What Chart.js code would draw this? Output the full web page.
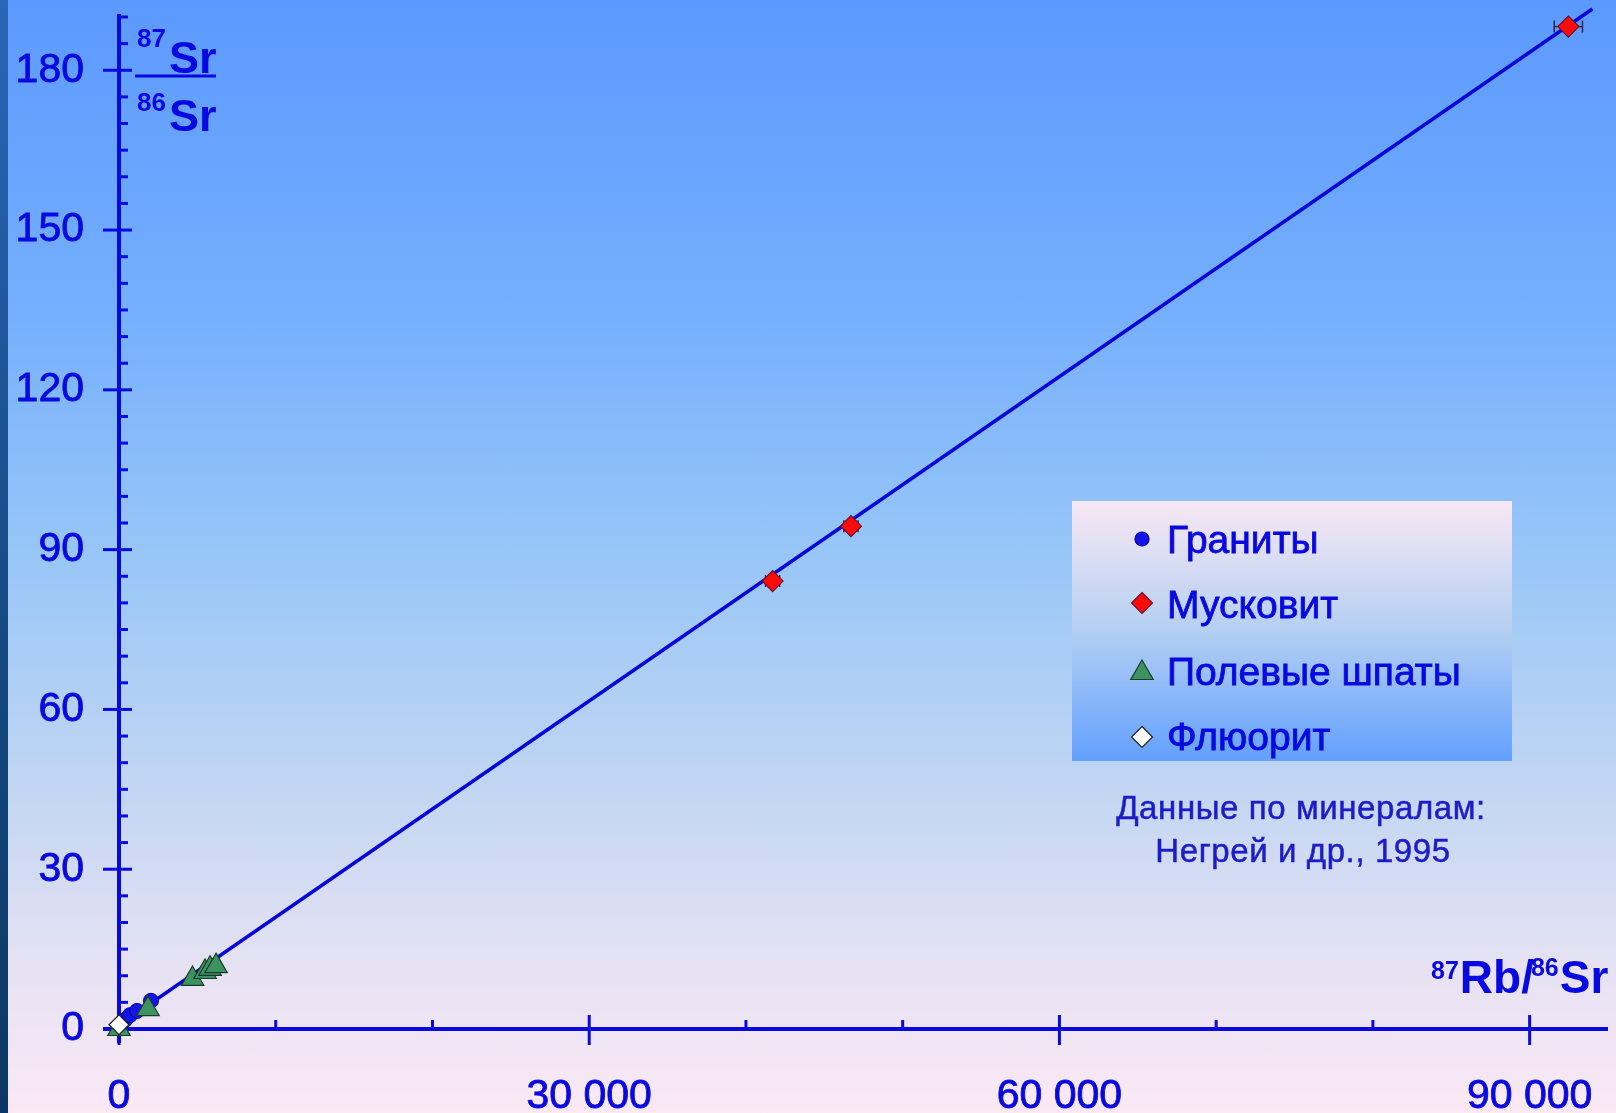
<!DOCTYPE html>
<html>
<head>
<meta charset="utf-8">
<title>Rb-Sr изохрона</title>
<script src="https://cdn.jsdelivr.net/npm/chart.js@4.4.1/dist/chart.umd.min.js"></script>
<style>
  html, body { margin: 0; padding: 0; }
  body {
    width: 1616px; height: 1113px; overflow: hidden; position: relative;
    background: linear-gradient(to bottom, #5c99ff 0%, #75affd 28%, #98c6f7 50%, #c4d7f2 72%, #e4e1f3 86%, #fbe9f5 100%);
  }
  #strip { position: absolute; left: 0; top: 0; width: 8px; height: 100%;
    background: linear-gradient(to bottom, #2a66b8, #14487f 60%, #0b3763); }
  #wrap { position: absolute; left: 0; top: 0; width: 1616px; height: 1113px; }
</style>
</head>
<body>
<div id="strip"></div>
<div id="wrap"><canvas id="grafico"></canvas></div>
<script>
// ===============================
// Данные (87Rb/86Sr, 87Sr/86Sr)
// ===============================
const xTicks = [0, 30000, 60000, 90000];
const xTickLabels = ['0', '30 000', '60 000', '90 000'];
const xMinorTicks = [10000, 20000, 40000, 50000, 70000, 80000];
const yTicks = [0, 30, 60, 90, 120, 150, 180];

const granitesX = [380, 700, 1150, 2040];
const granitesY = [1.7, 2.6, 3.4, 5.3];

const muscoviteX = [41700, 46700, 92470];
const muscoviteY = [84.1, 94.4, 188.2];
const muscoviteErrX = [450, 450, 900];

const feldsparX = [0, 1850, 4690, 5490, 5810, 6190];
const feldsparY = [0, 3.75, 9.4, 10.7, 11.3, 11.8];

const fluoriteX = [0];
const fluoriteY = [0.8];

// изохрона
const isochronX = [0, 94000];
const isochronY = [0.7, 191.5];

const seriesNames = ['Граниты', 'Мусковит', 'Полевые шпаты', 'Флюорит'];
const noteLines = ['Данные по минералам:', 'Негрей и др., 1995'];

const FONT = '"Liberation Sans", Arial, sans-serif';
const BLUE = '#0808e0';

function pts(xs, ys) {
  return xs.map((x, i) => ({ x: x, y: ys[i] }));
}

function seg(ctx, x1, y1, x2, y2) {
  ctx.beginPath(); ctx.moveTo(x1, y1); ctx.lineTo(x2, y2); ctx.stroke();
}

// текст с лёгкой обводкой (чуть плотнее, как в оригинале)
function label(ctx, text, x, y, stroke) {
  ctx.fillText(text, x, y);
  ctx.lineWidth = stroke;
  ctx.strokeStyle = ctx.fillStyle;
  ctx.strokeText(text, x, y);
}

// маркер для легенды
function marker(ctx, style, x, y, r, fill, stroke) {
  ctx.save();
  ctx.fillStyle = fill; ctx.strokeStyle = stroke; ctx.lineWidth = 1.2;
  ctx.beginPath();
  if (style === 'circle') {
    ctx.arc(x, y, r, 0, Math.PI * 2);
  } else if (style === 'diamond') {
    ctx.moveTo(x, y - r); ctx.lineTo(x + r, y); ctx.lineTo(x, y + r); ctx.lineTo(x - r, y);
  } else {
    ctx.moveTo(x, y - r); ctx.lineTo(x + r * 0.866, y + r / 2); ctx.lineTo(x - r * 0.866, y + r / 2);
  }
  ctx.closePath(); ctx.fill(); ctx.stroke();
  ctx.restore();
}

function isotope(ctx, x, base, mass, sym, supSize, mainSize, rise, gap) {
  ctx.font = 'bold ' + supSize + 'px ' + FONT;
  ctx.fillText(mass, x, base - rise);
  x += ctx.measureText(mass).width + gap;
  ctx.font = 'bold ' + mainSize + 'px ' + FONT;
  ctx.fillText(sym, x, base);
  return x + ctx.measureText(sym).width;
}

// Оси, деления и погрешности
const axesPlugin = {
  id: 'axes',
  beforeDatasetsDraw(chart) {
    const ctx = chart.ctx, xs = chart.scales.x, ys = chart.scales.y;
    const x0 = xs.getPixelForValue(0), y0 = ys.getPixelForValue(0);
    ctx.save();
    ctx.strokeStyle = BLUE;
    ctx.lineWidth = 4;
    seg(ctx, x0, ys.getPixelForValue(ys.max) - 3, x0, y0 + 14);
    seg(ctx, x0 - 16, y0, xs.getPixelForValue(xs.max), y0);
    ctx.lineWidth = 3;
    yTicks.forEach(v => { const p = ys.getPixelForValue(v); seg(ctx, x0 - 16, p, x0 + 13, p); });
    for (let v = 5; v <= ys.max; v += 5) {
      if (yTicks.includes(v)) continue;
      const p = ys.getPixelForValue(v);
      seg(ctx, x0, p, x0 + 9, p);
    }
    xTicks.forEach(v => { const p = xs.getPixelForValue(v); seg(ctx, p, y0 - 14, p, y0 + 16); });
    xMinorTicks.forEach(v => { const p = xs.getPixelForValue(v); seg(ctx, p, y0 - 9, p, y0); });

    // погрешности мусковита
    ctx.strokeStyle = '#26264a';
    ctx.lineWidth = 1.5;
    muscoviteX.forEach((x, i) => {
      const e = muscoviteErrX[i];
      const py = ys.getPixelForValue(muscoviteY[i]);
      const l = xs.getPixelForValue(x - e), r = xs.getPixelForValue(x + e);
      seg(ctx, l, py, r, py);
      seg(ctx, l, py - 6, l, py + 6);
      seg(ctx, r, py - 6, r, py + 6);
    });
    ctx.restore();
  },
  afterDraw(chart) {
    const ctx = chart.ctx;
    ctx.save();

    // легенда
    const bx = 1072, by = 501, bw = 440, bh = 260;
    const g = ctx.createLinearGradient(0, by, 0, by + bh);
    g.addColorStop(0, '#f8e8f4');
    g.addColorStop(0.5, '#b4cff2');
    g.addColorStop(1, '#62a0ff');
    ctx.fillStyle = g;
    ctx.fillRect(bx, by, bw, bh);

    const styles = [
      ['circle', 7, '#1414e6', '#0000a0'],
      ['diamond', 10.5, '#ff0a0a', '#6a1030'],
      ['triangle', 13, '#3d9262', '#1b3b2a'],
      ['diamond', 10.5, '#ffffff', '#202020']
    ];
    const markY = [539, 603, 673, 737];
    const textBase = [553, 618, 685, 750];
    ctx.textBaseline = 'alphabetic';
    seriesNames.forEach((name, i) => {
      const s = styles[i];
      marker(ctx, s[0], 1142, markY[i], s[1], s[2], s[3]);
      ctx.fillStyle = BLUE;
      ctx.font = '39px ' + FONT;
      ctx.textAlign = 'left';
      label(ctx, name, 1167, textBase[i], 0.8);
    });

    // примечание
    ctx.fillStyle = '#1c1cc8';
    ctx.font = '33px ' + FONT;
    ctx.letterSpacing = '0.6px';
    ctx.textAlign = 'center';
    label(ctx, noteLines[0], 1301, 819, 0.5);
    label(ctx, noteLines[1], 1303, 862, 0.5);
    ctx.letterSpacing = '0px';

    // подписи осей
    ctx.fillStyle = BLUE;
    ctx.textAlign = 'left';
    isotope(ctx, 137, 73, '87', 'Sr', 26, 45, 26, 3);
    isotope(ctx, 137, 131, '86', 'Sr', 26, 45, 20, 3);
    ctx.strokeStyle = BLUE;
    ctx.lineWidth = 3;
    seg(ctx, 135, 76, 216, 76);

    let x = isotope(ctx, 1431, 993, '87', 'Rb/', 25, 46, 14, 1);
    isotope(ctx, x - 3, 993, '86', 'Sr', 25, 46, 17, 1);
    ctx.restore();
  }
};

const ctx = document.getElementById('grafico').getContext('2d');
new Chart(ctx, {
  type: 'scatter',
  data: {
    datasets: [
      { label: 'isochron', data: pts(isochronX, isochronY), showLine: true,
        borderColor: '#0606d8', borderWidth: 3.5, pointRadius: 0, order: 5, clip: false },
      { label: seriesNames[0], data: pts(granitesX, granitesY), pointStyle: 'circle', pointRadius: 7.5,
        backgroundColor: '#1414e6', borderColor: '#0000a0', borderWidth: 1, order: 4, clip: false },
      { label: seriesNames[1], data: pts(muscoviteX, muscoviteY), pointStyle: 'rectRot', pointRadius: 10.5,
        backgroundColor: '#ff0a0a', borderColor: '#6a1030', borderWidth: 1.2, order: 3, clip: false },
      { label: seriesNames[2], data: pts(feldsparX, feldsparY), pointStyle: 'triangle', pointRadius: 13,
        backgroundColor: '#3d9262', borderColor: '#1b3b2a', borderWidth: 1.2, order: 2, clip: false },
      { label: seriesNames[3], data: pts(fluoriteX, fluoriteY), pointStyle: 'rectRot', pointRadius: 10,
        backgroundColor: '#ffffff', borderColor: '#202020', borderWidth: 1.2, order: 1, clip: false }
    ]
  },
  options: {
    responsive: true,
    maintainAspectRatio: false,
    animation: false,
    events: [],
    layout: { autoPadding: false, padding: { top: 17, right: 8, left: 0, bottom: 0 } },
    plugins: { legend: { display: false }, tooltip: { enabled: false } },
    scales: {
      x: {
        type: 'linear', min: 0, max: 95000,
        grid: { display: false, drawTicks: false }, border: { display: false },
        afterBuildTicks: a => { a.ticks = xTicks.map(v => ({ value: v })); },
        afterFit: a => { a.height = 84; a.paddingLeft = 0; a.paddingRight = 0; },
        ticks: { autoSkip: false, maxRotation: 0, padding: 43, color: BLUE,
          textStrokeColor: BLUE, textStrokeWidth: 0.8,
          font: { family: FONT, size: 41 },
          callback: (v, i) => xTickLabels[i] }
      },
      y: {
        type: 'linear', min: 0, max: 190,
        grid: { display: false, drawTicks: false }, border: { display: false },
        afterBuildTicks: a => { a.ticks = yTicks.map(v => ({ value: v })); },
        afterFit: a => { a.width = 119; a.paddingTop = 0; a.paddingBottom = 0; },
        ticks: { autoSkip: false, padding: 35, color: BLUE,
          textStrokeColor: BLUE, textStrokeWidth: 0.8,
          font: { family: FONT, size: 41 } }
      }
    }
  },
  plugins: [axesPlugin]
});
</script>
</body>
</html>
